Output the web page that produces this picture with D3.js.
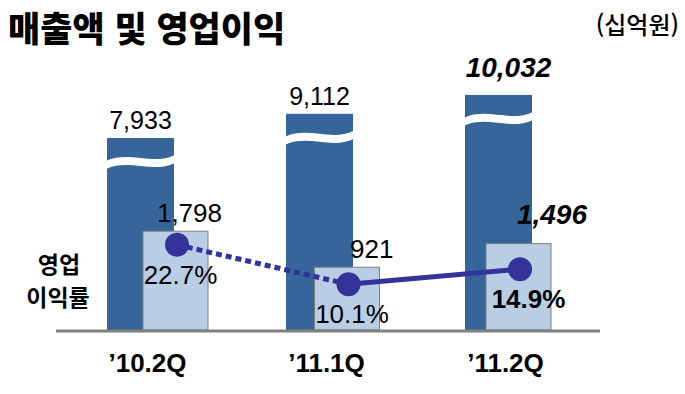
<!DOCTYPE html>
<html lang="ko">
<head>
<meta charset="utf-8">
<script src="https://d3js.org/d3.v7.min.js"></script>
<style>
  body { margin: 0; background: #fff; }
  text { font-family: "Liberation Sans", Arial, sans-serif; }
  .kr { font-family: "Noto Sans CJK KR", "Noto Sans", sans-serif; }
</style>
</head>
<body>
<div id="chart"></div>
<script>
// data
var quarters = ["\u201910.2Q", "\u201911.1Q", "\u201911.2Q"];
var sales = [7933, 9112, 10032];
var opProfit = [1798, 921, 1496];
var opMargin = [22.7, 10.1, 14.9];
var salesLabels = ["7,933", "9,112", "10,032"];
var profitLabels = ["1,798", "921", "1,496"];
var marginLabels = ["22.7%", "10.1%", "14.9%"];
var highlight = [false, false, true];

var W = 685, H = 394, base = 330;
var darkW = 67, lightW = 65;

var svg = d3.select("#chart").append("svg")
    .attr("width", W).attr("height", H);

// scales (bars are broken, so both use an offset baseline)
var xS = d3.scalePoint().domain(quarters).range([107, 465]);   // sales bar left edge
var xP = d3.scalePoint().domain(quarters).range([143, 486]);   // profit bar left edge
var ySales = d3.scaleLinear().domain([0, 10000]).range([300.6, 95.6]);
var yProfit = d3.scaleLinear().domain([0, 2000]).range([305.1, 222.9]);
var yMargin = d3.scaleLinear().domain([0, 25]).range([316, 237.5]);

var rows = quarters.map(function(q, i) {
  return { q: q, s: sales[i], p: opProfit[i], m: opMargin[i], i: i };
});

// dark sales bars
svg.selectAll(".sales").data(rows).enter().append("rect")
    .attr("x", function(d) { return xS(d.q); })
    .attr("y", function(d) { return ySales(d.s); })
    .attr("width", darkW)
    .attr("height", function(d) { return base - ySales(d.s); })
    .attr("fill", "#366599");

// wavy break band
svg.selectAll(".brk").data(rows).enter().append("path")
    .attr("d", function(d) {
      var x0 = xS(d.q) - 1, w = darkW + 2, yc = ySales(d.s) + 24, t = 4;
      return "M" + x0 + "," + (yc + 3 - t) +
        " C" + (x0 + w / 3) + "," + (yc - 8 - t) + " " + (x0 + 2 * w / 3) + "," + (yc + 8 - t) +
        " " + (x0 + w) + "," + (yc - 3 - t) +
        " L" + (x0 + w) + "," + (yc - 3 + t) +
        " C" + (x0 + 2 * w / 3) + "," + (yc + 8 + t) + " " + (x0 + w / 3) + "," + (yc - 8 + t) +
        " " + x0 + "," + (yc + 3 + t) + "Z";
    })
    .attr("fill", "#fff");

// light operating profit bars
svg.selectAll(".profit").data(rows).enter().append("rect")
    .attr("x", function(d) { return xP(d.q); })
    .attr("y", function(d) { return yProfit(d.p); })
    .attr("width", lightW)
    .attr("height", function(d) { return base - yProfit(d.p); })
    .attr("fill", "#B9CDE5")
    .attr("stroke", "#7F7F7F")
    .attr("stroke-width", 1);

// baseline
svg.append("line")
    .attr("x1", 56).attr("x2", 600)
    .attr("y1", base + 1).attr("y2", base + 1)
    .attr("stroke", "#808080").attr("stroke-width", 3);

// margin line: dotted then solid
var px = function(d) { return xP(d.q) + 34; };
var line = d3.line().x(px).y(function(d) { return yMargin(d.m); });
svg.append("path").datum(rows.slice(0, 2))
    .attr("d", line).attr("fill", "none")
    .attr("stroke", "#333399").attr("stroke-width", 5)
    .attr("stroke-dasharray", "6,4");
svg.append("path").datum(rows.slice(1))
    .attr("d", line).attr("fill", "none")
    .attr("stroke", "#333399").attr("stroke-width", 5);

svg.selectAll(".dot").data(rows).enter().append("circle")
    .attr("cx", px)
    .attr("cy", function(d) { return yMargin(d.m); })
    .attr("r", 12)
    .attr("fill", "#333399");

// sales labels
svg.selectAll(".sl").data(rows).enter().append("text")
    .attr("x", function(d) { return xS(d.q) + darkW / 2 + (highlight[d.i] ? 10 : 0); })
    .attr("y", function(d) { return ySales(d.s) - (highlight[d.i] ? 18 : 9); })
    .attr("text-anchor", "middle")
    .style("font-size", function(d) { return highlight[d.i] ? "28px" : "25px"; })
    .style("font-weight", function(d) { return highlight[d.i] ? "bold" : "normal"; })
    .style("font-style", function(d) { return highlight[d.i] ? "italic" : "normal"; })
    .text(function(d) { return salesLabels[d.i]; });

// profit labels
svg.selectAll(".pl").data(rows).enter().append("text")
    .attr("x", function(d) { return xP(d.q) + lightW + (highlight[d.i] ? 36 : 14); })
    .attr("y", function(d) { return yProfit(d.p) - (highlight[d.i] ? 20 : 9); })
    .attr("text-anchor", "end")
    .style("font-size", function(d) { return highlight[d.i] ? "28px" : "26px"; })
    .style("font-weight", function(d) { return highlight[d.i] ? "bold" : "normal"; })
    .style("font-style", function(d) { return highlight[d.i] ? "italic" : "normal"; })
    .text(function(d) { return profitLabels[d.i]; });

// margin labels
svg.selectAll(".ml").data(rows).enter().append("text")
    .attr("x", function(d) { return xP(d.q) + lightW / 2 + (highlight[d.i] ? 10 : 5); })
    .attr("y", function(d) { return yMargin(d.m) + 39; })
    .attr("text-anchor", "middle")
    .style("font-size", "26px")
    .style("font-weight", function(d) { return highlight[d.i] ? "bold" : "normal"; })
    .text(function(d) { return marginLabels[d.i]; });

// category labels
svg.selectAll(".cat").data(rows).enter().append("text")
    .attr("x", function(d) { return xS(d.q) + darkW / 2 + 7; })
    .attr("y", 372)
    .attr("text-anchor", "middle")
    .style("font-size", "26px")
    .style("font-weight", "bold")
    .text(function(d) { return d.q; });

// titles
svg.append("text").attr("class", "kr")
    .attr("x", 8).attr("y", 42)
    .style("font-size", "35px").style("font-weight", "900")
    .text("매출액 및 영업이익");

svg.append("text").attr("class", "kr")
    .attr("x", 679).attr("y", 34)
    .attr("text-anchor", "end")
    .style("font-size", "24px").style("font-weight", "500")
    .text("(십억원)");

svg.append("text").attr("class", "kr")
    .attr("x", 59).attr("y", 273)
    .attr("text-anchor", "middle")
    .style("font-size", "23px").style("font-weight", "bold")
    .text("영업");
svg.append("text").attr("class", "kr")
    .attr("x", 58).attr("y", 306)
    .attr("text-anchor", "middle")
    .style("font-size", "23px").style("font-weight", "bold")
    .text("이익률");
</script>
</body>
</html>
